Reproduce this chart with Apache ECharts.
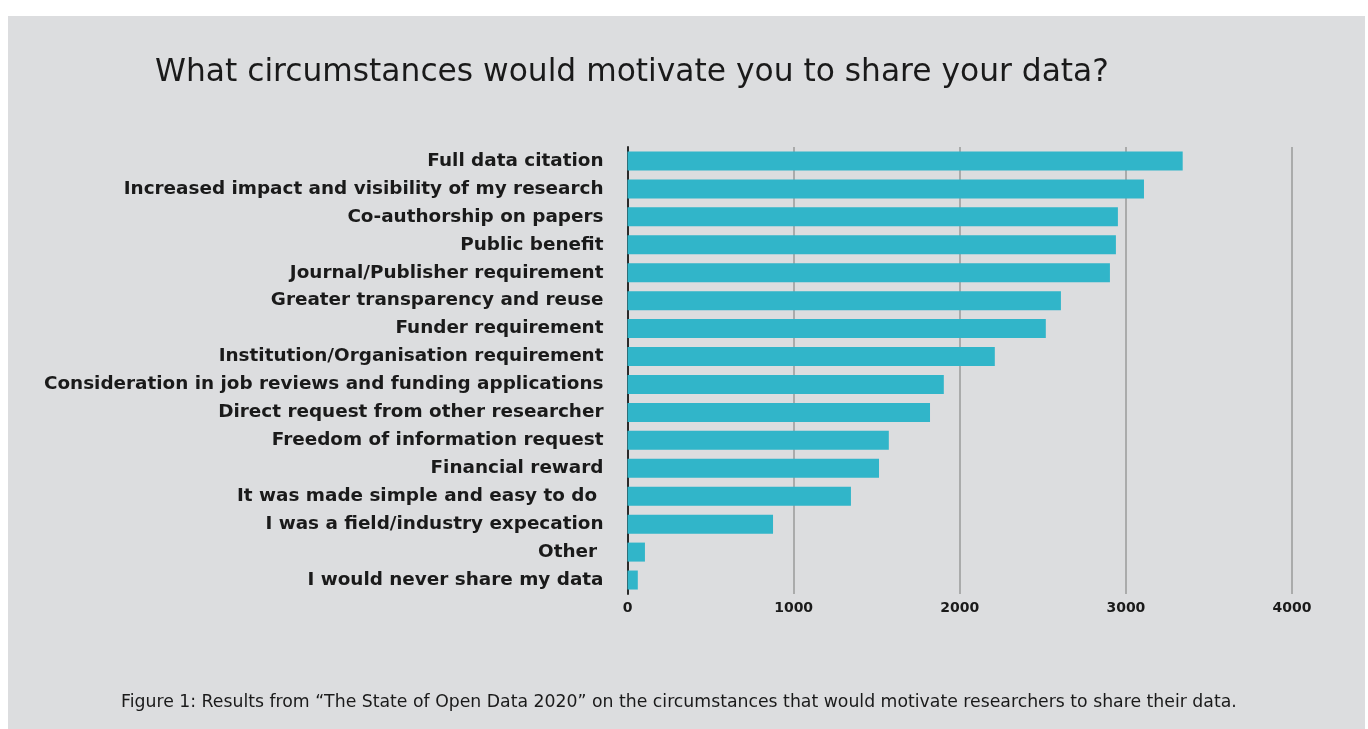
<!DOCTYPE html>
<html><head><meta charset="utf-8">
<script src="https://cdn.jsdelivr.net/npm/echarts@6/dist/echarts.min.js"></script>
<style>html,body{margin:0;padding:0;background:#fff}#c{width:1368px;height:729px}</style>
</head><body><div id="c"></div>
<script>
const categories = [
  "Full data citation",
  "Increased impact and visibility of my research",
  "Co-authorship on papers",
  "Public benefit",
  "Journal/Publisher requirement",
  "Greater transparency and reuse",
  "Funder requirement",
  "Institution/Organisation requirement",
  "Consideration in job reviews and funding applications",
  "Direct request from other researcher",
  "Freedom of information request",
  "Financial reward",
  "It was made simple and easy to do ",
  "I was a field/industry expecation",
  "Other ",
  "I would never share my data"
];
const values = [3342, 3109, 2952, 2940, 2904, 2609, 2518, 2211, 1904, 1821, 1573, 1514, 1345, 876, 105, 62];
const xTicks = [0, 1000, 2000, 3000, 4000];
const titleText = "What circumstances would motivate you to share your data?";
const captionText = "Figure 1: Results from \u201CThe State of Open Data 2020\u201D on the circumstances that would motivate researchers to share their data.";

const FONT = 'DejaVu Sans';
const chart = echarts.init(document.getElementById('c'));
chart.setOption({
  backgroundColor: '#ffffff',
  animation: false,
  graphic: [{
    type: 'rect', z: -100, silent: true,
    shape: {x: 8, y: 16, width: 1357, height: 713},
    style: {fill: '#dcdddf'}
  }],
  title: [{
    text: titleText, left: 150, top: 52,
    textStyle: {fontFamily: FONT, fontSize: 31.3, fontWeight: 'normal', color: '#1a1a1a'}
  }, {
    text: captionText, left: 116, top: 689,
    textStyle: {fontFamily: FONT, fontSize: 17.3, fontWeight: 'normal', color: '#1a1a1a'}
  }],
  grid: {left: 627.5, right: 76, top: 147, bottom: 135, containLabel: false},
  xAxis: {
    type: 'value', min: 0, max: 4000, interval: 1000,
    axisLine: {show: false}, axisTick: {show: false},
    splitLine: {show: true, lineStyle: {color: '#9a9a9a', width: 1.5}},
    axisLabel: {fontFamily: FONT, fontWeight: 'bold', fontSize: 14, color: '#1a1a1a', margin: 7,
      formatter: v => xTicks.includes(v) ? String(v) : ''}
  },
  yAxis: {
    type: 'category', data: categories, inverse: true,
    axisLine: {show: true, lineStyle: {color: '#2a2a2a', width: 2}},
    axisTick: {show: false},
    axisLabel: {fontFamily: FONT, fontWeight: 'bold', fontSize: 18.4, color: '#1a1a1a', margin: 24}
  },
  series: [{
    type: 'bar', data: values, barWidth: 19,
    itemStyle: {color: '#31b5c9'}
  }]
});
</script></body></html>
